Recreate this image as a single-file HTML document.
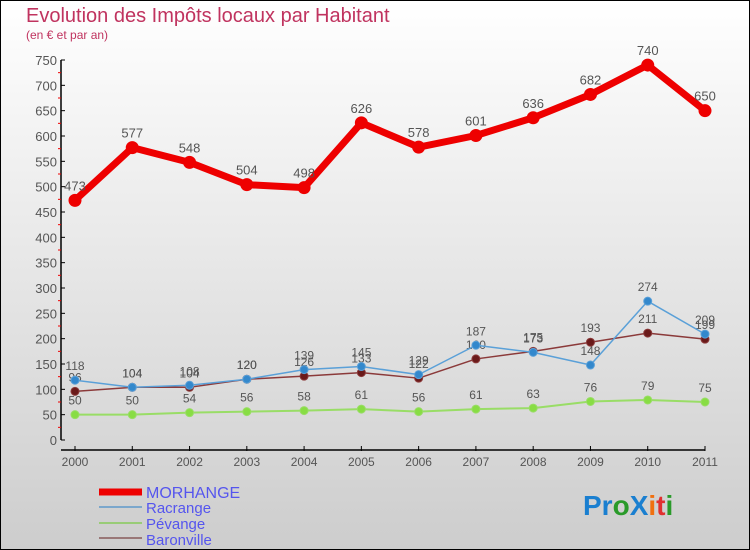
<!DOCTYPE html>
<html><head><meta charset="utf-8"><style>
html,body{margin:0;padding:0}
body{width:750px;height:550px;overflow:hidden;font-family:"Liberation Sans",sans-serif}
svg{display:block}
</style></head><body>
<svg id="chart" width="750" height="550" xmlns="http://www.w3.org/2000/svg">
<defs><linearGradient id="bg" x1="0" y1="0" x2="0" y2="1"><stop offset="0" stop-color="#ffffff"/><stop offset="1" stop-color="#cdcdcd"/></linearGradient></defs>
<rect x="0.5" y="0.5" width="749" height="549" fill="url(#bg)" stroke="#000"/>
<text x="26" y="22" font-size="20" fill="#c0335f">Evolution des Impôts locaux par Habitant</text>
<text x="26" y="39" font-size="12" fill="#c0335f">(en € et par an)</text>
<g id="axes"></g><g id="series"></g>
<g font-size="15" fill="#5555ee">
<line x1="99" y1="492" x2="142" y2="492" stroke="#ee0000" stroke-width="7"/>
<text x="146" y="498" font-size="16">MORHANGE</text>
<line x1="99" y1="507" x2="142" y2="507" stroke="#7ba7cc" stroke-width="2"/>
<text x="146" y="513">Racrange</text>
<line x1="99" y1="523" x2="142" y2="523" stroke="#99cc77" stroke-width="2"/>
<text x="146" y="529">Pévange</text>
<line x1="99" y1="538" x2="142" y2="538" stroke="#997777" stroke-width="2"/>
<text x="146" y="545">Baronville</text>
</g>
<g font-size="28" font-weight="bold">
<text x="583" y="515"><tspan fill="#1a7fd0">Pr</tspan><tspan fill="#2a9a2a">o</tspan><tspan fill="#1a7fd0">X</tspan><tspan fill="#f07010">i</tspan><tspan fill="#e03030">t</tspan><tspan fill="#2a9a2a">i</tspan></text>
</g>
</svg>
<script>
const years=[2000,2001,2002,2003,2004,2005,2006,2007,2008,2009,2010,2011];
const morhange=[473,577,548,504,498,626,578,601,636,682,740,650];
const racrange=[118,104,108,120,139,145,129,187,173,148,274,209];
const pevange=[50,50,54,56,58,61,56,61,63,76,79,75];
const baronville=[96,104,104,120,126,133,122,160,175,193,211,199];
const yTicks=[0,50,100,150,200,250,300,350,400,450,500,550,600,650,700,750];
const NS="http://www.w3.org/2000/svg";
const x=i=>75+i*(630/(years.length-1));
const y=v=>440-v*(380/750);
function mk(t,a,p){const e=document.createElementNS(NS,t);for(const k in a)e.setAttribute(k,a[k]);p.appendChild(e);return e;}
const ax=document.getElementById('axes');
const yAxis=mk('line',{x1:61,y1:y(750),x2:61,y2:440,stroke:'#000','stroke-width':1.5},ax);


const xAxis=mk('line',{x1:61,y1:450,x2:705,y2:450,stroke:'#000','stroke-width':1.5},ax);


yTicks.forEach(v=>{
  mk('line',{x1:61,y1:y(v),x2:65,y2:y(v),stroke:'#000'},ax);
  if(v<750) mk('line',{x1:58,y1:y(v+25),x2:61,y2:y(v+25),stroke:'#e00'},ax);
  const t=mk('text',{x:57,y:y(v)+5,'text-anchor':'end','font-size':13,fill:'#555'},ax);
  
  
  t.textContent=v;
});
years.forEach((yr,i)=>{
  mk('line',{x1:x(i),y1:446,x2:x(i),y2:451,stroke:'#000'},ax);
  const t=mk('text',{x:x(i),y:466,'text-anchor':'middle','font-size':12,fill:'#555'},ax);
  
  
  t.textContent=yr;
});
const sg=document.getElementById('series');
function series(name,vals,color,w,r,dot,fs){
  const g=mk('g',{},sg);
  
  
  const pl=mk('polyline',{points:vals.map((v,i)=>x(i)+','+y(v)).join(' '),fill:'none',stroke:color,'stroke-width':w,'stroke-linejoin':'round'},g);
  
  
  vals.forEach((v,i)=>{
    const c=mk('circle',{cx:x(i),cy:y(v),r:r,fill:dot,stroke:color,'stroke-width':1},g);
    
    
    const t=mk('text',{x:x(i),y:y(v)-10,'text-anchor':'middle','font-size':fs,fill:'#555'},g);
    
    
    t.textContent=v;
  });
}
series('pevange',pevange,'#99dd66',2,4,'#88dd44',12);
series('baronville',baronville,'#8b3a3a',1.5,4,'#6a1a1a',12);
series('racrange',racrange,'#5aa0d8',1.5,4,'#3388cc',12);
series('morhange',morhange,'#ee0000',7,6,'#ee0000',13);
</script>
</body></html>
